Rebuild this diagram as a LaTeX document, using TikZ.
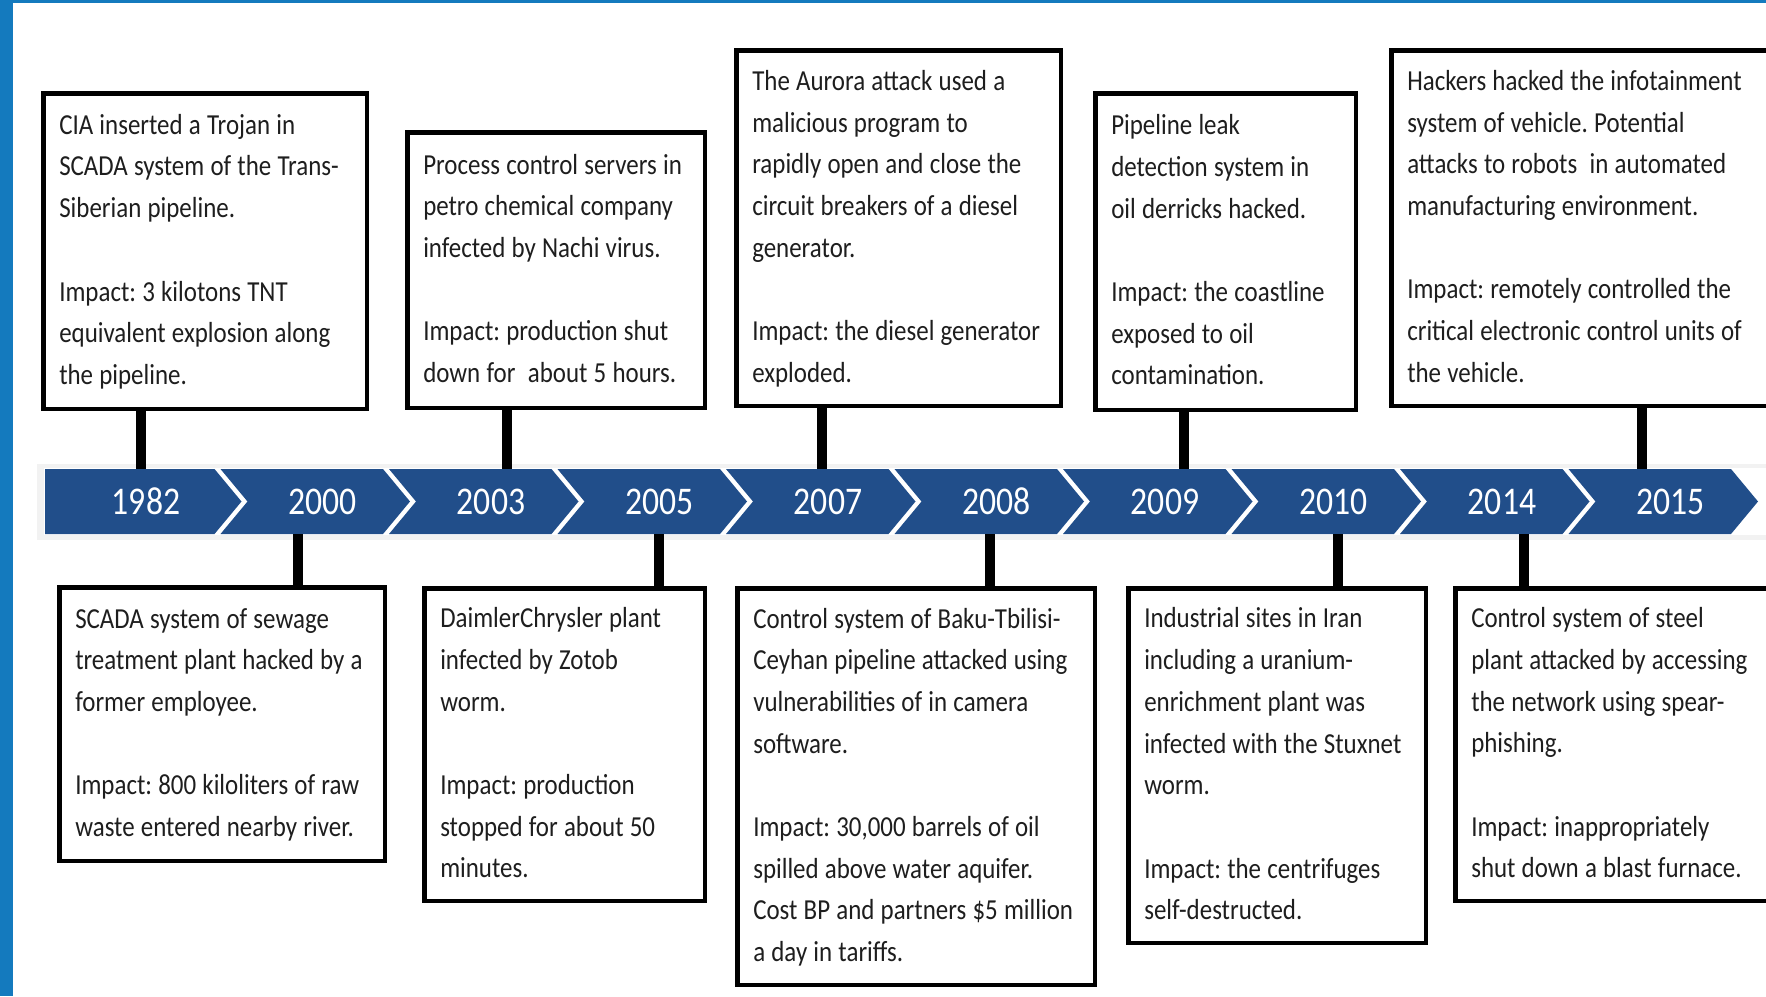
\documentclass[tikz,border=0pt]{standalone}
\usepackage{fontspec}
\newfontfamily\evfont{Carlito}[FakeStretch=0.86]
\definecolor{framebl}{RGB}{20,122,190}
\definecolor{bandbl}{RGB}{33,78,138}
\definecolor{ink}{RGB}{30,30,30}

\tikzset{
  eventbox/.style={draw=black, line width=2.25pt, fill=white, rectangle,
    inner xsep=8pt, inner ysep=1pt, align=left, text=ink,
    font=\evfont\frenchspacing\fontsize{14.5pt}{20.85pt}\selectfont},
  yearlbl/.style={text=white, font=\evfont\fontsize{19.6pt}{22pt}\selectfont,
    minimum height=32.5pt, minimum width=40pt, inner sep=0pt, outer sep=0pt},
  stub/.style={line width=5pt, draw=black},
  chevron/.style={fill=bandbl},
}

% event box given by its outer edges (x1,y1)-(x2,y2) in pixel units
\newcommand\eventbox[6]{%
  \pgfmathsetmacro\bw{(#4-#2-4.5)*0.5}%
  \pgfmathsetmacro\bh{(#5-#3-4.5)*0.5}%
  \pgfmathsetmacro\tw{\bw-16}%
  \node[eventbox, minimum width=\bw pt, minimum height=\bh pt, text width=\tw pt]
    (#1) at ({(#2+#4)/2},{(#3+#5)/2})
    {\spaceskip=3.1pt\relax\begin{tabular}{@{}l@{}}#6\end{tabular}};%
}

\begin{document}
\begin{tikzpicture}[x=0.5pt, y=-0.5pt]
\useasboundingbox (0,0) rectangle (1766,996);
\clip (0,0) rectangle (1766,996);
\fill[white] (0,0) rectangle (1766,996);

% blue frame on the left and top
\fill[framebl] (0,0) rectangle (13,996);
\fill[framebl] (0,0) rectangle (1766,3);

% timeline band
\fill[black!5] (37,464) rectangle (1780,540);
\fill[white] (44,468) rectangle (1780,535);
\fill[chevron] (45,469) -- (214.5,469) -- (241.5,501.5) -- (214.5,534) -- (45,534) -- cycle;
\foreach \k in {1,...,9}{
  \pgfmathsetmacro\L{1400+(\k-8)*168.5}
  \fill[chevron] (\L,469) -- ({\L+162.5},469) -- ({\L+189.5},501.5)
     -- ({\L+162.5},534) -- (\L,534) -- ({\L+27},501.5) -- cycle;
}

% year labels
\node[yearlbl] (y1982) at (146,501.5) {1982};
\foreach \yr [count=\k] in {2000,2003,2005,2007,2008,2009,2010,2014,2015}{
  \node[yearlbl] (y\yr) at ({1400+(\k-8)*168.5+102},501.5) {\yr};
}

% events above the timeline
\eventbox{cia}{41}{91}{369}{411}{CIA inserted a Trojan in\\
SCADA system of the Trans-\\
Siberian pipeline.\\ \\
Impact: 3 kilotons TNT\\
equivalent explosion along\\
the pipeline.}

\eventbox{nachi}{405}{130}{707}{410}{Process control servers in\\
petro chemical company\\
infected by Nachi virus.\\ \\
Impact: production shut\\
down for\ \ about 5 hours.}

\eventbox{aurora}{734}{48}{1063}{408}{The Aurora attack used a\\
malicious program to\\
rapidly open and close the\\
circuit breakers of a diesel\\
generator.\\ \\
Impact: the diesel generator\\
exploded.}

\eventbox{leak}{1093}{91}{1358}{412}{Pipeline leak\\
detection system in\\
oil derricks hacked.\\ \\
Impact: the coastline\\
exposed to oil\\
contamination.}

\eventbox{infot}{1389}{48}{1795}{408}{Hackers hacked the infotainment\\
system of vehicle. Potential\\
attacks to robots\ \ in automated\\
manufacturing environment.\\ \\
Impact: remotely controlled the\\
critical electronic control units of\\
the vehicle.}

% events below the timeline
\eventbox{sewage}{57}{585}{387}{863}{SCADA system of sewage\\
treatment plant hacked by a\\
former employee.\\ \\
Impact: 800 kiloliters of raw\\
waste entered nearby river.}

\eventbox{zotob}{422}{586}{707}{903}{DaimlerChrysler plant\\
infected by Zotob\\
worm.\\ \\
Impact: production\\
stopped for about 50\\
minutes.}

\eventbox{btc}{735}{586}{1097}{987}{Control system of Baku-Tbilisi-\\
Ceyhan pipeline attacked using\\
vulnerabilities of in camera\\
software.\\ \\
Impact: 30,000 barrels of oil\\
spilled above water aquifer.\\
Cost BP and partners \$5 million\\
a day in tariffs.}

\eventbox{stuxnet}{1126}{586}{1428}{945}{Industrial sites in Iran\\
including a uranium-\\
enrichment plant was\\
infected with the Stuxnet\\
worm.\\ \\
Impact: the centrifuges\\
self-destructed.}

\eventbox{steel}{1453}{586}{1795}{903}{Control system of steel\\
plant attacked by accessing\\
the network using spear-\\
phishing.\\ \\
Impact: inappropriately\\
shut down a blast furnace.}

% stub positions along the band
\coordinate (s1982) at (141,0);
\coordinate (s2000) at (298,0);
\coordinate (s2003) at (507,0);
\coordinate (s2005) at (659,0);
\coordinate (s2007) at (822,0);
\coordinate (s2008) at (990,0);
\coordinate (s2009) at (1184,0);
\coordinate (s2010) at (1338,0);
\coordinate (s2014) at (1524,0);
\coordinate (s2015) at (1642,0);

% connectors from events to years
\draw[stub] (cia.south -| s1982) -- (y1982.north -| s1982);
\draw[stub] (nachi.south -| s2003) -- (y2003.north -| s2003);
\draw[stub] (aurora.south -| s2007) -- (y2007.north -| s2007);
\draw[stub] (leak.south -| s2009) -- (y2009.north -| s2009);
\draw[stub] (infot.south -| s2015) -- (y2015.north -| s2015);
\draw[stub] (y2000.south -| s2000) -- (sewage.north -| s2000);
\draw[stub] (y2005.south -| s2005) -- (zotob.north -| s2005);
\draw[stub] (y2008.south -| s2008) -- (btc.north -| s2008);
\draw[stub] (y2010.south -| s2010) -- (stuxnet.north -| s2010);
\draw[stub] (y2014.south -| s2014) -- (steel.north -| s2014);
\end{tikzpicture}
\end{document}
